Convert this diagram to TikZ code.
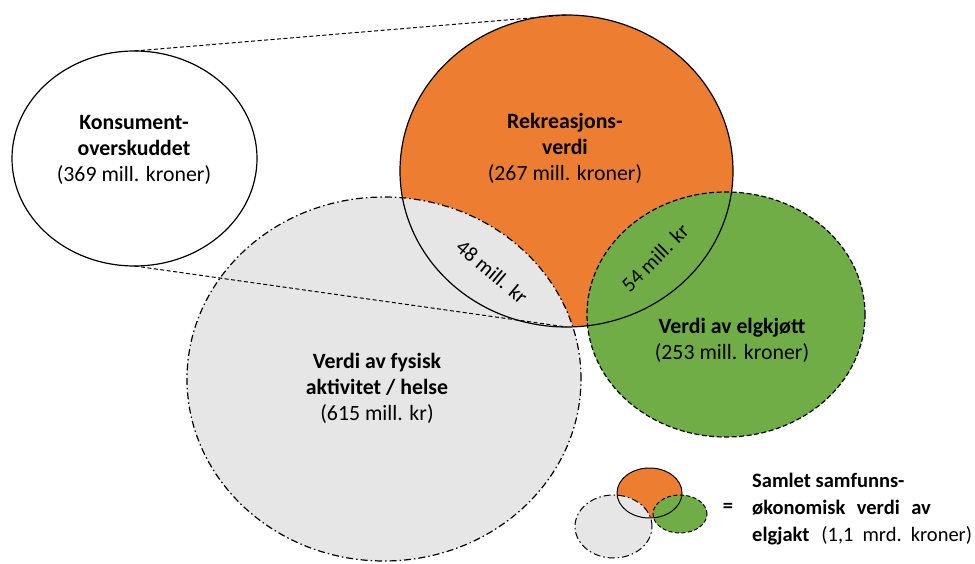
\documentclass[tikz,border=0pt]{standalone}
\usepackage{fontspec}
\setmainfont{Carlito}
\usetikzlibrary{shapes.geometric}
\definecolor{orng}{HTML}{ED7D31}
\definecolor{grn}{HTML}{70AD47}
\definecolor{gry}{HTML}{E7E6E6}
\begin{document}
\begin{tikzpicture}[x=1pt,y=-1pt,
  blob/.style={ellipse, inner sep=0pt, outer sep=0pt, draw=none},
  solidline/.style={line width=1.2pt, draw=black},
  dashline/.style={line width=1.2pt, draw=black, dash pattern=on 5pt off 2.5pt},
  dashdotline/.style={line width=1.2pt, draw=black, dash pattern=on 7pt off 3pt on 1.5pt off 3pt},
  thindash/.style={line width=1pt, draw=black, dash pattern=on 4pt off 2.5pt},
  lbl/.style={align=center, inner sep=0pt, font=\fontsize{21.8}{26}\selectfont},
  leg/.style={align=left, inner sep=0pt, font=\fontsize{20.5}{27}\selectfont}]
\useasboundingbox (0,0) rectangle (975,564);
% fills
\node[blob, fill=orng, minimum width=333pt, minimum height=312pt] (rek) at (566.5,171) {};
\node[blob, fill=gry, minimum width=394pt, minimum height=364pt] (fys) at (384,379) {};
\node[blob, fill=grn, minimum width=278pt, minimum height=245pt] (kjott) at (726,314.5) {};
\node[blob, fill=white, minimum width=245pt, minimum height=215pt] (kons) at (134.5,158.5) {};
% outlines
\node[blob, dashdotline, minimum width=394pt, minimum height=364pt] (fysO) at (fys.center) {};
\node[blob, dashline, minimum width=278pt, minimum height=245pt] (kjottO) at (kjott.center) {};
\node[blob, solidline, minimum width=333pt, minimum height=312pt] (rekO) at (rek.center) {};
\node[blob, solidline, minimum width=245pt, minimum height=215pt] (konsO) at (kons.center) {};
% connectors
\draw[thindash] (kons.north) -- (rek.north);
\draw[thindash] (kons.south) -- (rek.south);
% labels
\node[lbl] (konsT) at (134,149.5) {\textbf{Konsument-}\\\textbf{overskuddet}\\(369 mill. kroner)};
\node[lbl] (rekT) at (565,148) {\textbf{Rekreasjons-}\\\textbf{verdi}\\(267 mill. kroner)};
\node[lbl] (kjottT) at (732,340.5) {\textbf{Verdi av elgkjøtt}\\(253 mill. kroner)};
\node[lbl] (fysT) at (377,388) {\textbf{Verdi av fysisk}\\\textbf{aktivitet / helse}\\(615 mill. kr)};
\node[lbl, font=\fontsize{21}{26}\selectfont, rotate=-40] (ov1) at (492,272) {48 mill. kr};
\node[lbl, font=\fontsize{21}{26}\selectfont, rotate=45] (ov2) at (655,258) {54 mill. kr};
% legend
\node[blob, fill=orng, minimum width=65pt, minimum height=50pt] (lo) at (649.5,493) {};
\node[blob, fill=gry, minimum width=77pt, minimum height=63pt] (lg) at (613.5,526.5) {};
\node[blob, fill=grn, minimum width=54pt, minimum height=38pt] (lgr) at (680,514) {};
\node[blob, dashdotline, line width=1pt, minimum width=77pt, minimum height=63pt] (lgO) at (lg.center) {};
\node[blob, thindash, minimum width=54pt, minimum height=38pt] (lgrO) at (lgr.center) {};
\node[blob, solidline, line width=1pt, minimum width=65pt, minimum height=50pt] (loO) at (lo.center) {};
\node[leg, font=\fontsize{20.5}{27}\selectfont\bfseries] (eq) at (728,508) {=};
\node[leg, anchor=north west] (legT) at (752,473) {\textbf{Samlet samfunns-}\\\textbf{økonomisk\hspace{11.5pt}verdi\hspace{11.5pt}av}\\\textbf{elgjakt}\hspace{12pt}(1,1\hspace{9pt}mrd.\hspace{9pt}kroner)};
\end{tikzpicture}
\end{document}
